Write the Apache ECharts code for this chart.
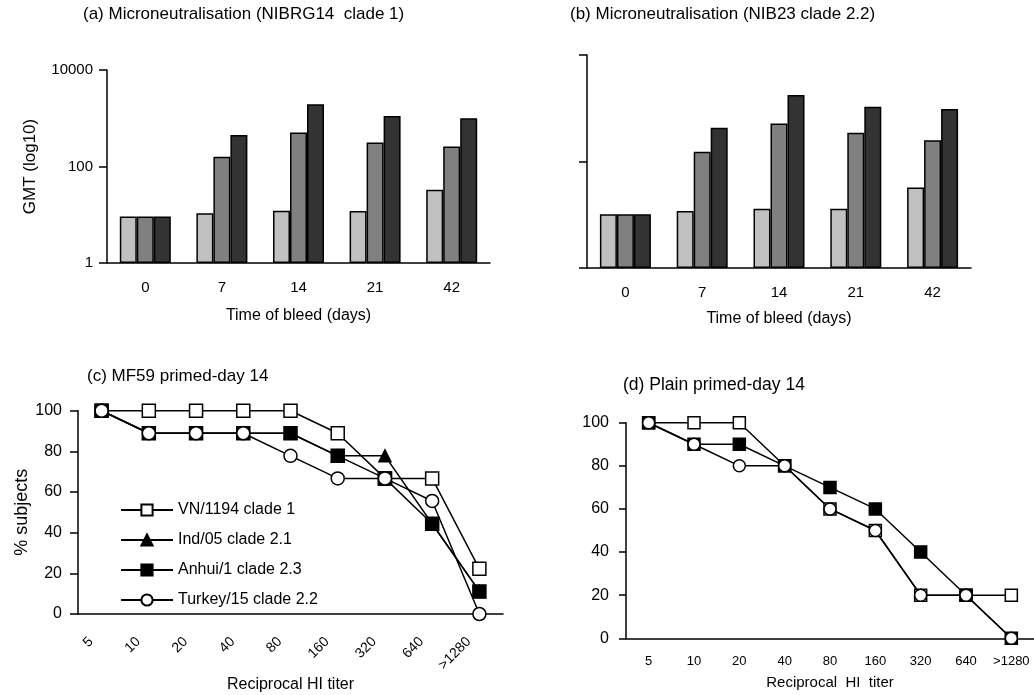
<!DOCTYPE html>
<html><head><meta charset="utf-8">
<script src="https://cdn.jsdelivr.net/npm/echarts@6/dist/echarts.min.js"></script>
<style>html,body{margin:0;padding:0;background:#fff}#c{width:1034px;height:695px}</style>
</head><body><div id="c"></div>
<script>
// ---- data ----
const days = ['0', '7', '14', '21', '42'];
const gmtTicks = [1, 100, 10000];
const nibrg14Light = [9.2, 10.8, 12.1, 12, 33];
const nibrg14Mid = [9.2, 160, 505, 314, 259];
const nibrg14Dark = [9.2, 452, 1950, 1117, 1000];
const nib23Light = [10.2, 11.8, 12.9, 12.9, 32.4];
const nib23Mid = [10.2, 152, 518, 346, 252];
const nib23Dark = [10.2, 430, 1770, 1067, 964];

const titers = ['5', '10', '20', '40', '80', '160', '320', '640', '>1280'];
const pctTicks = [0, 20, 40, 60, 80, 100];
const mfVN = [100, 100, 100, 100, 100, 88.9, 66.7, 66.7, 22.2];
const mfInd = [100, 88.9, 88.9, 88.9, 88.9, 77.8, 77.8, 44.4, 11.1];
const mfAnhui = [100, 88.9, 88.9, 88.9, 88.9, 77.8, 66.7, 44.4, 11.1];
const mfTurkey = [100, 88.9, 88.9, 88.9, 77.8, 66.7, 66.7, 55.6, 0];
const plainVN = [100, 100, 100, 80, 60, 50, 20, 20, 20];
const plainAnhui = [100, 90, 90, 80, 70, 60, 40, 20, 0];
const plainTurkey = [100, 90, 80, 80, 60, 50, 20, 20, 0];

const seriesNames = ['VN/1194 clade 1', 'Ind/05 clade 2.1', 'Anhui/1 clade 2.3', 'Turkey/15 clade 2.2'];
const titles = ['(a) Microneutralisation (NIBRG14  clade 1)', '(b) Microneutralisation (NIB23 clade 2.2)',
  '(c) MF59 primed-day 14', '(d) Plain primed-day 14'];

// ---- chart ----
const FF = 'Liberation Sans, Arial, sans-serif';
const black = '#000';
const axLine = { lineStyle: { color: black, width: 1.5 } };
function txt(size) { return { fontFamily: FF, fontSize: size, color: black, fontWeight: 'normal' }; }

const chart = echarts.init(document.getElementById('c'), null, { renderer: 'canvas' });

const grids = [
  { left: 107, top: 70, width: 383, height: 193 },
  { left: 587, top: 55, width: 384, height: 213 },
  { left: 78, top: 410.7, width: 425, height: 203.3 },
  { left: 626, top: 422.7, width: 409, height: 215.6 }
];

const xAxes = [
  { gridIndex: 0, type: 'category', data: days, axisLine: axLine,
    axisTick: { length: 5, lineStyle: { color: black, width: 1.5 } },
    axisLabel: Object.assign(txt(15), { margin: 17 }),
    name: 'Time of bleed (days)', nameLocation: 'middle', nameGap: 45, nameTextStyle: txt(16) },
  { gridIndex: 1, type: 'category', data: days, axisLine: axLine,
    axisTick: { length: 5, lineStyle: { color: black, width: 1.5 } },
    axisLabel: Object.assign(txt(15), { margin: 17 }),
    name: 'Time of bleed (days)', nameLocation: 'middle', nameGap: 43, nameTextStyle: txt(16) },
  { gridIndex: 2, type: 'category', data: titers, axisLine: axLine,
    axisTick: { length: 6, lineStyle: { color: black, width: 1.5 } },
    axisLabel: Object.assign(txt(14), { margin: 15, rotate: 45, interval: 0, padding: [0, 15, 0, 0] }),
    name: 'Reciprocal HI titer', nameLocation: 'middle', nameGap: 63, nameTextStyle: txt(16) },
  { gridIndex: 3, type: 'category', data: titers, axisLine: axLine,
    axisTick: { length: 6, interval: 0, lineStyle: { color: black, width: 1.5 } },
    axisLabel: Object.assign(txt(13), { margin: 17, interval: 0 }),
    name: 'Reciprocal  HI  titer', nameLocation: 'middle', nameGap: 37, nameTextStyle: txt(15) }
];

const yAxes = [
  { gridIndex: 0, type: 'log', logBase: 100, min: gmtTicks[0], max: gmtTicks[gmtTicks.length - 1],
    axisLine: Object.assign({ show: true }, axLine), splitLine: { show: false }, minorTick: { show: false },
    axisTick: { show: true, length: 8, lineStyle: { color: black, width: 1.5 } },
    axisLabel: Object.assign(txt(15), { margin: 14, formatter: v => String(v) }),
    name: 'GMT (log10)', nameLocation: 'middle', nameGap: 68, nameTextStyle: txt(17) },
  { gridIndex: 1, type: 'log', logBase: 100, min: gmtTicks[0], max: gmtTicks[gmtTicks.length - 1],
    axisLine: Object.assign({ show: true }, axLine), splitLine: { show: false },
    axisTick: { show: true, length: 8, lineStyle: { color: black, width: 1.5 } },
    axisLabel: { show: false } },
  { gridIndex: 2, type: 'value', min: pctTicks[0], max: pctTicks[pctTicks.length - 1], interval: 20,
    axisLine: Object.assign({ show: true }, axLine), splitLine: { show: false },
    axisTick: { show: true, length: 8, lineStyle: { color: black, width: 1.5 } },
    axisLabel: Object.assign(txt(16), { margin: 16 }),
    name: '% subjects', nameLocation: 'middle', nameGap: 47, nameTextStyle: txt(18) },
  { gridIndex: 3, type: 'value', min: pctTicks[0], max: pctTicks[pctTicks.length - 1], interval: 20,
    axisLine: Object.assign({ show: true }, axLine), splitLine: { show: false },
    axisTick: { show: true, length: 7, lineStyle: { color: black, width: 1.5 } },
    axisLabel: Object.assign(txt(16), { margin: 17 }) }
];

const barColors = ['#c0c0c0', '#808080', '#333333'];
function bar(name, data, idx, ci) {
  return { type: 'bar', name: name, data: data, xAxisIndex: idx, yAxisIndex: idx,
    barWidth: 17, barGap: '0%',
    itemStyle: { color: barColors[ci], borderColor: black, borderWidth: 1.5 },
    emphasis: { disabled: true }, silent: true };
}
function line(name, data, idx, symbol, fill, size) {
  return { type: 'line', name: name, data: data, xAxisIndex: idx, yAxisIndex: idx,
    symbol: symbol, symbolSize: size, showAllSymbol: true,
    lineStyle: { color: black, width: 1.5 },
    itemStyle: { color: fill, borderColor: black, borderWidth: 1.5 },
    emphasis: { disabled: true }, silent: true, animation: false };
}

const series = [
  bar('a1', nibrg14Light, 0, 0), bar('a2', nibrg14Mid, 0, 1), bar('a3', nibrg14Dark, 0, 2),
  bar('b1', nib23Light, 1, 0), bar('b2', nib23Mid, 1, 1), bar('b3', nib23Dark, 1, 2),
  line(seriesNames[0], mfVN, 2, 'rect', '#fff', 13),
  line(seriesNames[1], mfInd, 2, 'triangle', '#000', 12),
  line(seriesNames[2], mfAnhui, 2, 'rect', '#000', 13),
  line(seriesNames[3], mfTurkey, 2, 'circle', '#fff', 13),
  line('d-' + seriesNames[0], plainVN, 3, 'rect', '#fff', 12),
  line('d-' + seriesNames[2], plainAnhui, 3, 'rect', '#000', 12),
  line('d-' + seriesNames[3], plainTurkey, 3, 'circle', '#fff', 12)
];

function ttl(text, left, top, size) {
  return { text: text, left: left, top: top, padding: 0, textStyle: txt(size) };
}

chart.setOption({
  animation: false,
  backgroundColor: '#fff',
  title: [
    ttl(titles[0], 83, 6, 17), ttl(titles[1], 570, 6, 17),
    ttl(titles[2], 87, 368, 17), ttl(titles[3], 623, 376, 17.5)
  ],
  legend: {
    data: seriesNames, orient: 'vertical', left: 120, top: 502, padding: 0,
    itemWidth: 52, itemHeight: 14, itemGap: 14,
    textStyle: txt(16), selectedMode: false
  },
  grid: grids,
  xAxis: xAxes,
  yAxis: yAxes,
  series: series
});
</script>
</body></html>
